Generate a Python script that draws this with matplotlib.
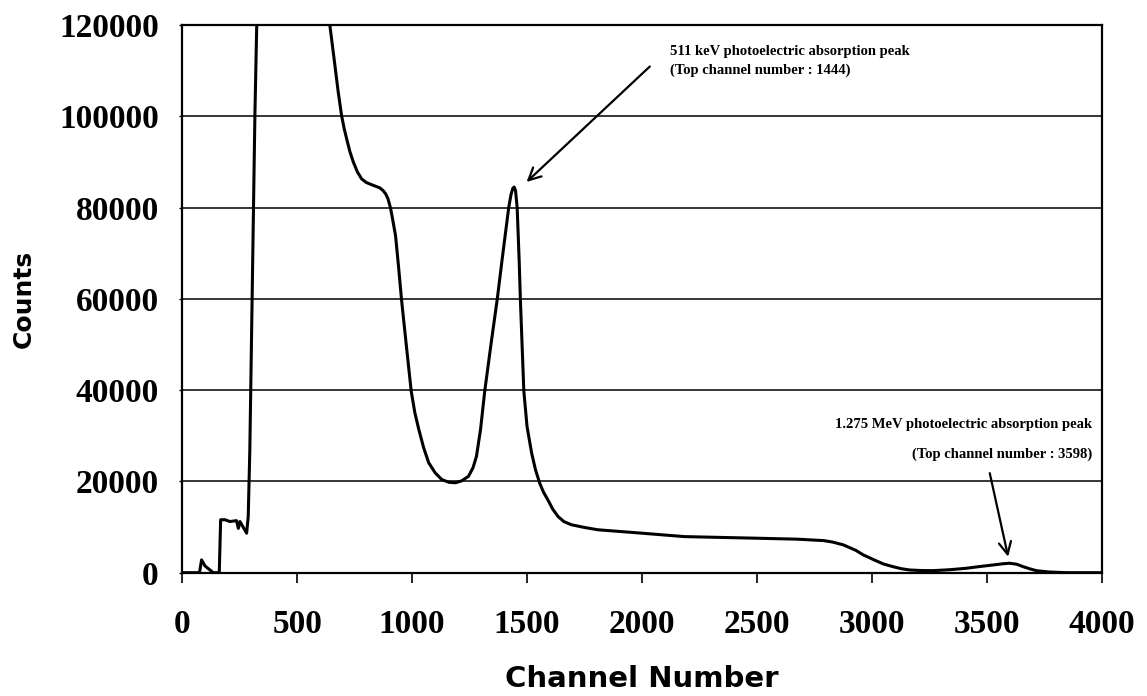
import matplotlib
matplotlib.use("Agg")
from matplotlib import pyplot as plt

# spectrum read channel by channel (counts above 120000 run off the top)
channel = [0, 75, 84, 99, 135, 161, 167, 186, 207, 236, 244, 251, 280, 287, 294,
           316, 324, 360, 450, 550, 642, 652, 664, 678, 693, 704, 715, 729, 744,
           762, 780, 800, 824, 845, 860, 874, 885, 895, 906, 915, 928, 941, 954,
           966, 978, 996, 1012, 1029, 1050, 1072, 1100, 1129, 1160, 1188, 1215,
           1245, 1265, 1280, 1298, 1316, 1343, 1370, 1395, 1420, 1430, 1438, 1444,
           1450, 1457, 1466, 1471, 1486, 1500, 1520, 1537, 1555, 1572, 1590, 1612,
           1635, 1660, 1693, 1750, 1808, 2000, 2185, 2490, 2674, 2790, 2830, 2876,
           2930, 2963, 3010, 3050, 3093, 3130, 3165, 3215, 3265, 3340, 3412, 3470,
           3528, 3570, 3598, 3630, 3658, 3690, 3716, 3770, 3847, 4000]
counts = [0, 0, 2800, 1470, 0, 0, 11600, 11600, 11200, 11400, 9700, 11200, 8650, 12300, 27000,
          100200, 120000, 170000, 220000, 180000, 120000, 116000, 111200, 105500, 100200, 97400, 95100, 92300, 90000,
          87800, 86300, 85500, 85000, 84600, 84300, 83700, 83000, 81900, 79900, 77500, 73800, 67000, 59800,
          54000, 48300, 39800, 35000, 31400, 27400, 24100, 21900, 20400, 19800, 19700, 20100,
          21100, 23000, 25500, 31500, 39800, 50000, 59800, 70000, 79900, 82800, 84200, 84500,
          83700, 80000, 68000, 59800, 39800, 32000, 26200, 22500, 19600, 17600, 16000, 13900,
          12300, 11200, 10500, 9900, 9400, 8650, 7900, 7560, 7340, 7030, 6700, 6090,
          4900, 3890, 2800, 1910, 1300, 850, 590, 470, 440, 650, 970, 1350,
          1690, 1950, 2070, 1850, 1320, 800, 440, 150, 0, 0]

xticks = [0, 500, 1000, 1500, 2000, 2500, 3000, 3500, 4000]
yticks = [0, 20000, 40000, 60000, 80000, 100000, 120000]

# peak notes: text lines, where they sit, and arrow tail/head
note1 = ["511 keV photoelectric absorption peak", "(Top channel number : 1444)"]
note1_xy = [(2121, 114200), (2121, 110100)]
arrow1 = [(2034, 110900), (1498, 85600)]

note2 = ["1.275 MeV photoelectric absorption peak", "(Top channel number : 3598)"]
note2_xy = [(3957, 32460), (3957, 25870)]
arrow2 = [(3513, 21800), (3593, 3500)]

fig = plt.figure(figsize=(11.47, 6.96), dpi=100)
ax = fig.add_axes([0.1589, 0.1772, 0.8016, 0.7869])

ax.plot(channel, counts, color='black', lw=2.2, zorder=3, solid_joinstyle='round')

ax.set_xlim(0, 4000)
ax.set_ylim(0, 120000)
ax.set_xticks(xticks)
ax.set_yticks(yticks)
ax.yaxis.grid(True, color='black', lw=1.1)
ax.set_axisbelow(True)

for s in ax.spines.values():
    s.set_linewidth(1.6)

ax.tick_params(axis='x', direction='out', length=7, width=1.2, pad=19)
ax.tick_params(axis='y', direction='out', length=2, width=1, pad=15)
for lab in ax.get_xticklabels() + ax.get_yticklabels():
    lab.set_fontfamily('Liberation Serif')
    lab.set_fontweight('bold')
    lab.set_fontsize(24)

ax.set_xlabel('Channel Number', fontsize=21, fontweight='bold', labelpad=18)
ax.set_ylabel('Counts', fontsize=18, fontweight='bold', labelpad=17)

for txt, (x, y) in zip(note1, note1_xy):
    ax.text(x, y, txt, ha='left', va='center', fontsize=10.5, fontweight='bold',
            family='Liberation Serif')
for txt, (x, y) in zip(note2, note2_xy):
    ax.text(x, y, txt, ha='right', va='center', fontsize=10.5, fontweight='bold',
            family='Liberation Serif')

for tail, head in [arrow1, arrow2]:
    ax.annotate('', xy=head, xytext=tail,
                arrowprops=dict(arrowstyle='->', color='black', lw=1.6,
                                mutation_scale=22, shrinkA=0, shrinkB=0))

plt.savefig('out.png', dpi=100)
